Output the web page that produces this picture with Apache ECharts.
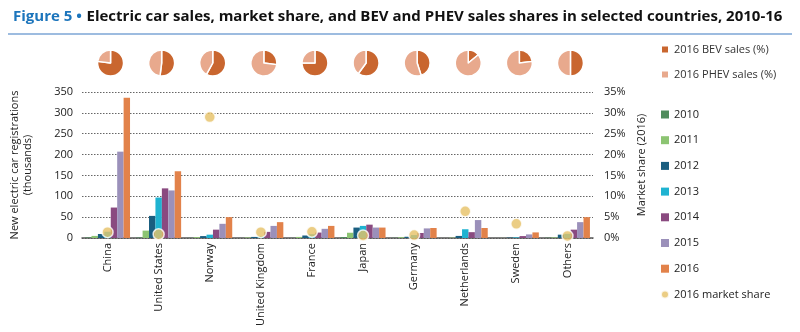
<!DOCTYPE html>
<html><head><meta charset="utf-8">
<script src="https://cdn.jsdelivr.net/npm/echarts@6/dist/echarts.min.js"></script>
<style>html,body{margin:0;padding:0;background:#fff}#c{width:800px;height:332px}</style>
</head><body><div id="c"></div>
<script>
const categories = ['China','United States','Norway','United Kingdom','France','Japan','Germany','Netherlands','Sweden','Others'];
const years = ['2010','2011','2012','2013','2014','2015','2016'];
const s2010 = [1.4, 1.2, 0.4, 0.2, 0.3, 2.4, 0.5, 0.1, 0.1, 0.8];
const s2011 = [5, 17.7, 2, 1.4, 2.6, 12.6, 2, 0.9, 0.2, 1.5];
const s2012 = [9.6, 53, 4.6, 2.6, 6, 25, 3, 5, 1, 8];
const s2013 = [15, 97, 8, 3.8, 9, 29, 7, 21, 1.5, 10];
const s2014 = [73, 119, 20, 14.7, 13, 32, 12, 14, 4.6, 20];
const s2015 = [207, 114, 34, 29, 22, 25, 23, 43, 8.6, 38];
const s2016 = [336, 160, 50, 38, 29, 25, 24, 24, 13.4, 50];
const marketShare2016 = [1.4, 0.9, 29, 1.4, 1.5, 0.6, 0.7, 6.4, 3.4, 0.5];
const bevShare2016 = [77, 52, 58, 27, 75, 60, 45, 14, 23, 50];
const phevShare2016 = [23, 48, 42, 73, 25, 40, 55, 86, 77, 50];
const leftTicks = [0, 50, 100, 150, 200, 250, 300, 350];
const rightTicks = [0, 5, 10, 15, 20, 25, 30, 35];

const yearData = [s2010, s2011, s2012, s2013, s2014, s2015, s2016];
const yearColors = ['#4f8b5c', '#8cc472', '#1a5e80', '#1fb3d1', '#8a4a80', '#9b90ba', '#e2824a'];
const FONT = '"Open Sans", "Liberation Sans", sans-serif';

const chart = echarts.init(document.getElementById('c'), null, {renderer: 'canvas'});

const barSeries = years.map((y, i) => ({
  name: y, type: 'bar', data: yearData[i], yAxisIndex: 0,
  itemStyle: {color: yearColors[i]}, barGap: '0%', barCategoryGap: '12%'
}));

const option = {
  animation: false,
  textStyle: {fontFamily: FONT},
  title: {
    left: 8, top: 3,
    text: '{a|Figure 5 •} {b|Electric car sales, market share, and BEV and PHEV sales shares in selected countries, 2010-16}',
    textStyle: {rich: {
      a: {fontFamily: FONT, fontSize: 15, fontWeight: 'bold', color: '#1c75bc'},
      b: {fontFamily: FONT, fontSize: 15, fontWeight: 'bold', color: '#111'}
    }}
  },
  graphic: [{type: 'line', shape: {x1: 8, y1: 34, x2: 792, y2: 34}, style: {stroke: '#7da6d6', lineWidth: 1.5}}],
  grid: {left: 82, right: 207, top: 92, bottom: 94},
  xAxis: {
    type: 'category', data: categories,
    axisLine: {lineStyle: {color: '#555', width: 1.5}},
    axisTick: {show: false},
    axisLabel: {rotate: 90, fontSize: 11, color: '#222', margin: 5, fontFamily: FONT}
  },
  yAxis: [{
    type: 'value', min: leftTicks[0], max: leftTicks[leftTicks.length - 1], interval: 50,
    name: 'New electric car registrations\n(thousands)', nameLocation: 'middle', nameGap: 48, nameRotate: 90,
    nameTextStyle: {fontSize: 11, color: '#222', lineHeight: 13, fontFamily: FONT},
    axisLabel: {fontSize: 11, color: '#222', margin: 9, fontFamily: FONT},
    axisLine: {show: false}, axisTick: {show: false},
    splitLine: {lineStyle: {color: '#666', type: [1.5, 1.5], width: 1}}
  }, {
    type: 'value', min: rightTicks[0], max: rightTicks[rightTicks.length - 1], interval: 5,
    name: 'Market share (2016)', nameLocation: 'middle', nameGap: 36, nameRotate: 90,
    nameTextStyle: {fontSize: 11, color: '#222', fontFamily: FONT},
    axisLabel: {fontSize: 11, color: '#222', margin: 11, formatter: '{value}%', fontFamily: FONT},
    axisLine: {show: false}, axisTick: {show: false}, splitLine: {show: false}
  }],
  legend: [{
    data: ['2016 BEV sales (%)', '2016 PHEV sales (%)'],
    orient: 'vertical', left: 655, top: 39, itemWidth: 8, itemHeight: 8, itemGap: 14,
    icon: 'rect', textStyle: {fontSize: 11, color: '#333', fontFamily: FONT}
  }, {
    data: years.concat([{name: '2016 market share', icon: 'circle'}]),
    orient: 'vertical', left: 655, top: 104, itemWidth: 8, itemHeight: 8, itemGap: 14.7,
    icon: 'rect', textStyle: {fontSize: 11, color: '#222', fontFamily: FONT}
  }],
  series: barSeries.concat([{
    name: '2016 market share', type: 'scatter', yAxisIndex: 1, data: marketShare2016,
    symbolSize: 11, z: 5,
    itemStyle: {color: '#e6c165', borderColor: '#fff', borderWidth: 1.5}
  }])
};
chart.setOption(option);

const pieSeries = categories.map((c, i) => {
  const px = chart.convertToPixel({xAxisIndex: 0}, c);
  return {
    type: 'pie', radius: 13, center: [px + 3, 63], startAngle: 90, clockwise: true,
    label: {show: false}, labelLine: {show: false}, silent: true,
    itemStyle: {borderColor: '#fff', borderWidth: 1.5},
    data: [
      {name: '2016 BEV sales (%)', value: bevShare2016[i], itemStyle: {color: '#c9662f'}},
      {name: '2016 PHEV sales (%)', value: phevShare2016[i], itemStyle: {color: '#e8a98d'}}
    ]
  };
});
chart.setOption({series: barSeries.concat([option.series[option.series.length - 1]], pieSeries)});
</script></body></html>
